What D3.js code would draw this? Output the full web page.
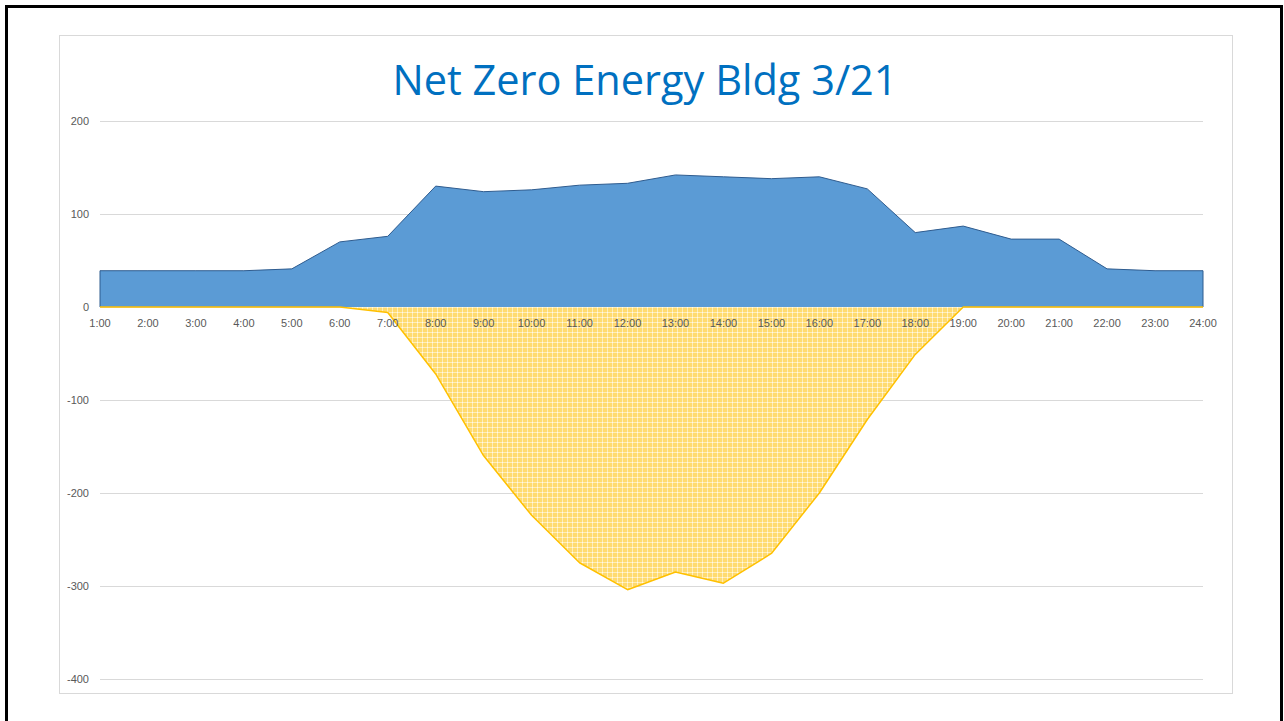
<!DOCTYPE html>
<html>
<head>
<meta charset="utf-8">
<script src="https://cdn.jsdelivr.net/npm/d3@7"></script>
<style>
  html, body { margin: 0; padding: 0; background: #fff; }
  svg { display: block; }
</style>
</head>
<body>
<svg id="chart" width="1284" height="721"></svg>
<script>
var hours = ["1:00","2:00","3:00","4:00","5:00","6:00","7:00","8:00","9:00","10:00","11:00","12:00",
             "13:00","14:00","15:00","16:00","17:00","18:00","19:00","20:00","21:00","22:00","23:00","24:00"];
var demand = [39, 39, 39, 39, 41, 70, 76, 130, 124, 126, 131, 133,
              142, 140, 138, 140, 127, 80, 87, 73, 73, 41, 39, 39];
var solar = [0, 0, 0, 0, 0, 0, -6, -72, -160, -224, -275, -304,
             -285, -297, -265, -200, -121, -51, 0, 0, 0, 0, 0, 0];
var yTicks = [200, 100, 0, -100, -200, -300, -400];
var title = "Net Zero Energy Bldg 3/21";

var svg = d3.select("#chart");

// slide frame
svg.append("rect")
    .attr("x", 6.5).attr("y", 6.5)
    .attr("width", 1275).attr("height", 730)
    .attr("fill", "none")
    .attr("stroke", "#000")
    .attr("stroke-width", 3);

// chart area border
svg.append("rect")
    .attr("x", 59.5).attr("y", 35.5)
    .attr("width", 1173).attr("height", 658)
    .attr("fill", "#fff")
    .attr("stroke", "#d9d9d9")
    .attr("stroke-width", 1);

// pattern for the yellow area (light plaid over gold)
var defs = svg.append("defs");
var pat = defs.append("pattern")
    .attr("id", "dots")
    .attr("patternUnits", "userSpaceOnUse")
    .attr("width", 5).attr("height", 5);
pat.append("rect").attr("width", 5).attr("height", 5).attr("fill", "#ffdb70");
pat.append("rect").attr("x", 0).attr("y", 2).attr("width", 5).attr("height", 1).attr("fill", "#ffedb9");
pat.append("rect").attr("x", 2).attr("y", 0).attr("width", 1).attr("height", 5).attr("fill", "#ffedb9");
pat.append("rect").attr("x", 2).attr("y", 2).attr("width", 1).attr("height", 1).attr("fill", "#fffaea");

var x = d3.scalePoint().domain(hours).range([100, 1203]);
var y = d3.scaleLinear().domain([-400, 200]).range([679, 121]);

// gridlines
svg.append("g")
    .selectAll("line")
    .data(yTicks)
    .enter().append("line")
    .attr("x1", 100).attr("x2", 1203)
    .attr("y1", function(d) { return Math.round(y(d)) + 0.5; })
    .attr("y2", function(d) { return Math.round(y(d)) + 0.5; })
    .attr("stroke", "#d9d9d9")
    .attr("stroke-width", 1);

// y labels
svg.append("g")
    .selectAll("text")
    .data(yTicks)
    .enter().append("text")
    .attr("x", 89)
    .attr("y", function(d) { return y(d) + 4; })
    .attr("text-anchor", "end")
    .attr("font-family", "Liberation Sans, Arial, sans-serif")
    .attr("font-size", 11)
    .attr("fill", "#595959")
    .text(function(d) { return d; });

var area = function(vals) {
  return d3.area()
      .x(function(d, i) { return x(hours[i]); })
      .y0(y(0))
      .y1(function(d) { return y(d); })(vals);
};
var line = function(vals) {
  return d3.line()
      .x(function(d, i) { return x(hours[i]); })
      .y(function(d) { return y(d); })(vals);
};

// demand area
svg.append("path")
    .attr("d", area(demand))
    .attr("fill", "#5b9bd5");
svg.append("path")
    .attr("d", line(demand))
    .attr("fill", "none")
    .attr("stroke", "#2f5c8f")
    .attr("stroke-width", 1);
svg.append("line")
    .attr("x1", x(hours[0])).attr("x2", x(hours[0]))
    .attr("y1", y(0)).attr("y2", y(demand[0]))
    .attr("stroke", "#2f5c8f").attr("stroke-width", 1);
svg.append("line")
    .attr("x1", x(hours[23])).attr("x2", x(hours[23]))
    .attr("y1", y(0)).attr("y2", y(demand[23]))
    .attr("stroke", "#2f5c8f").attr("stroke-width", 1);

// solar area
svg.append("path")
    .attr("d", area(solar))
    .attr("fill", "url(#dots)");
svg.append("path")
    .attr("d", line(solar))
    .attr("fill", "none")
    .attr("stroke", "#ffc000")
    .attr("stroke-width", 1.5)
    .attr("stroke-linejoin", "round");

// x labels
svg.append("g")
    .selectAll("text")
    .data(hours)
    .enter().append("text")
    .attr("x", function(d) { return x(d); })
    .attr("y", 327)
    .attr("text-anchor", "middle")
    .attr("font-family", "Liberation Sans, Arial, sans-serif")
    .attr("font-size", 11)
    .attr("fill", "#595959")
    .text(function(d) { return d; });

// title
svg.append("text")
    .attr("x", 645)
    .attr("y", 95)
    .attr("text-anchor", "middle")
    .attr("font-family", "Open Sans, Liberation Sans, sans-serif")
    .attr("font-size", 41.5)
    .attr("fill", "#0070c0")
    .text(title);
</script>
</body>
</html>
